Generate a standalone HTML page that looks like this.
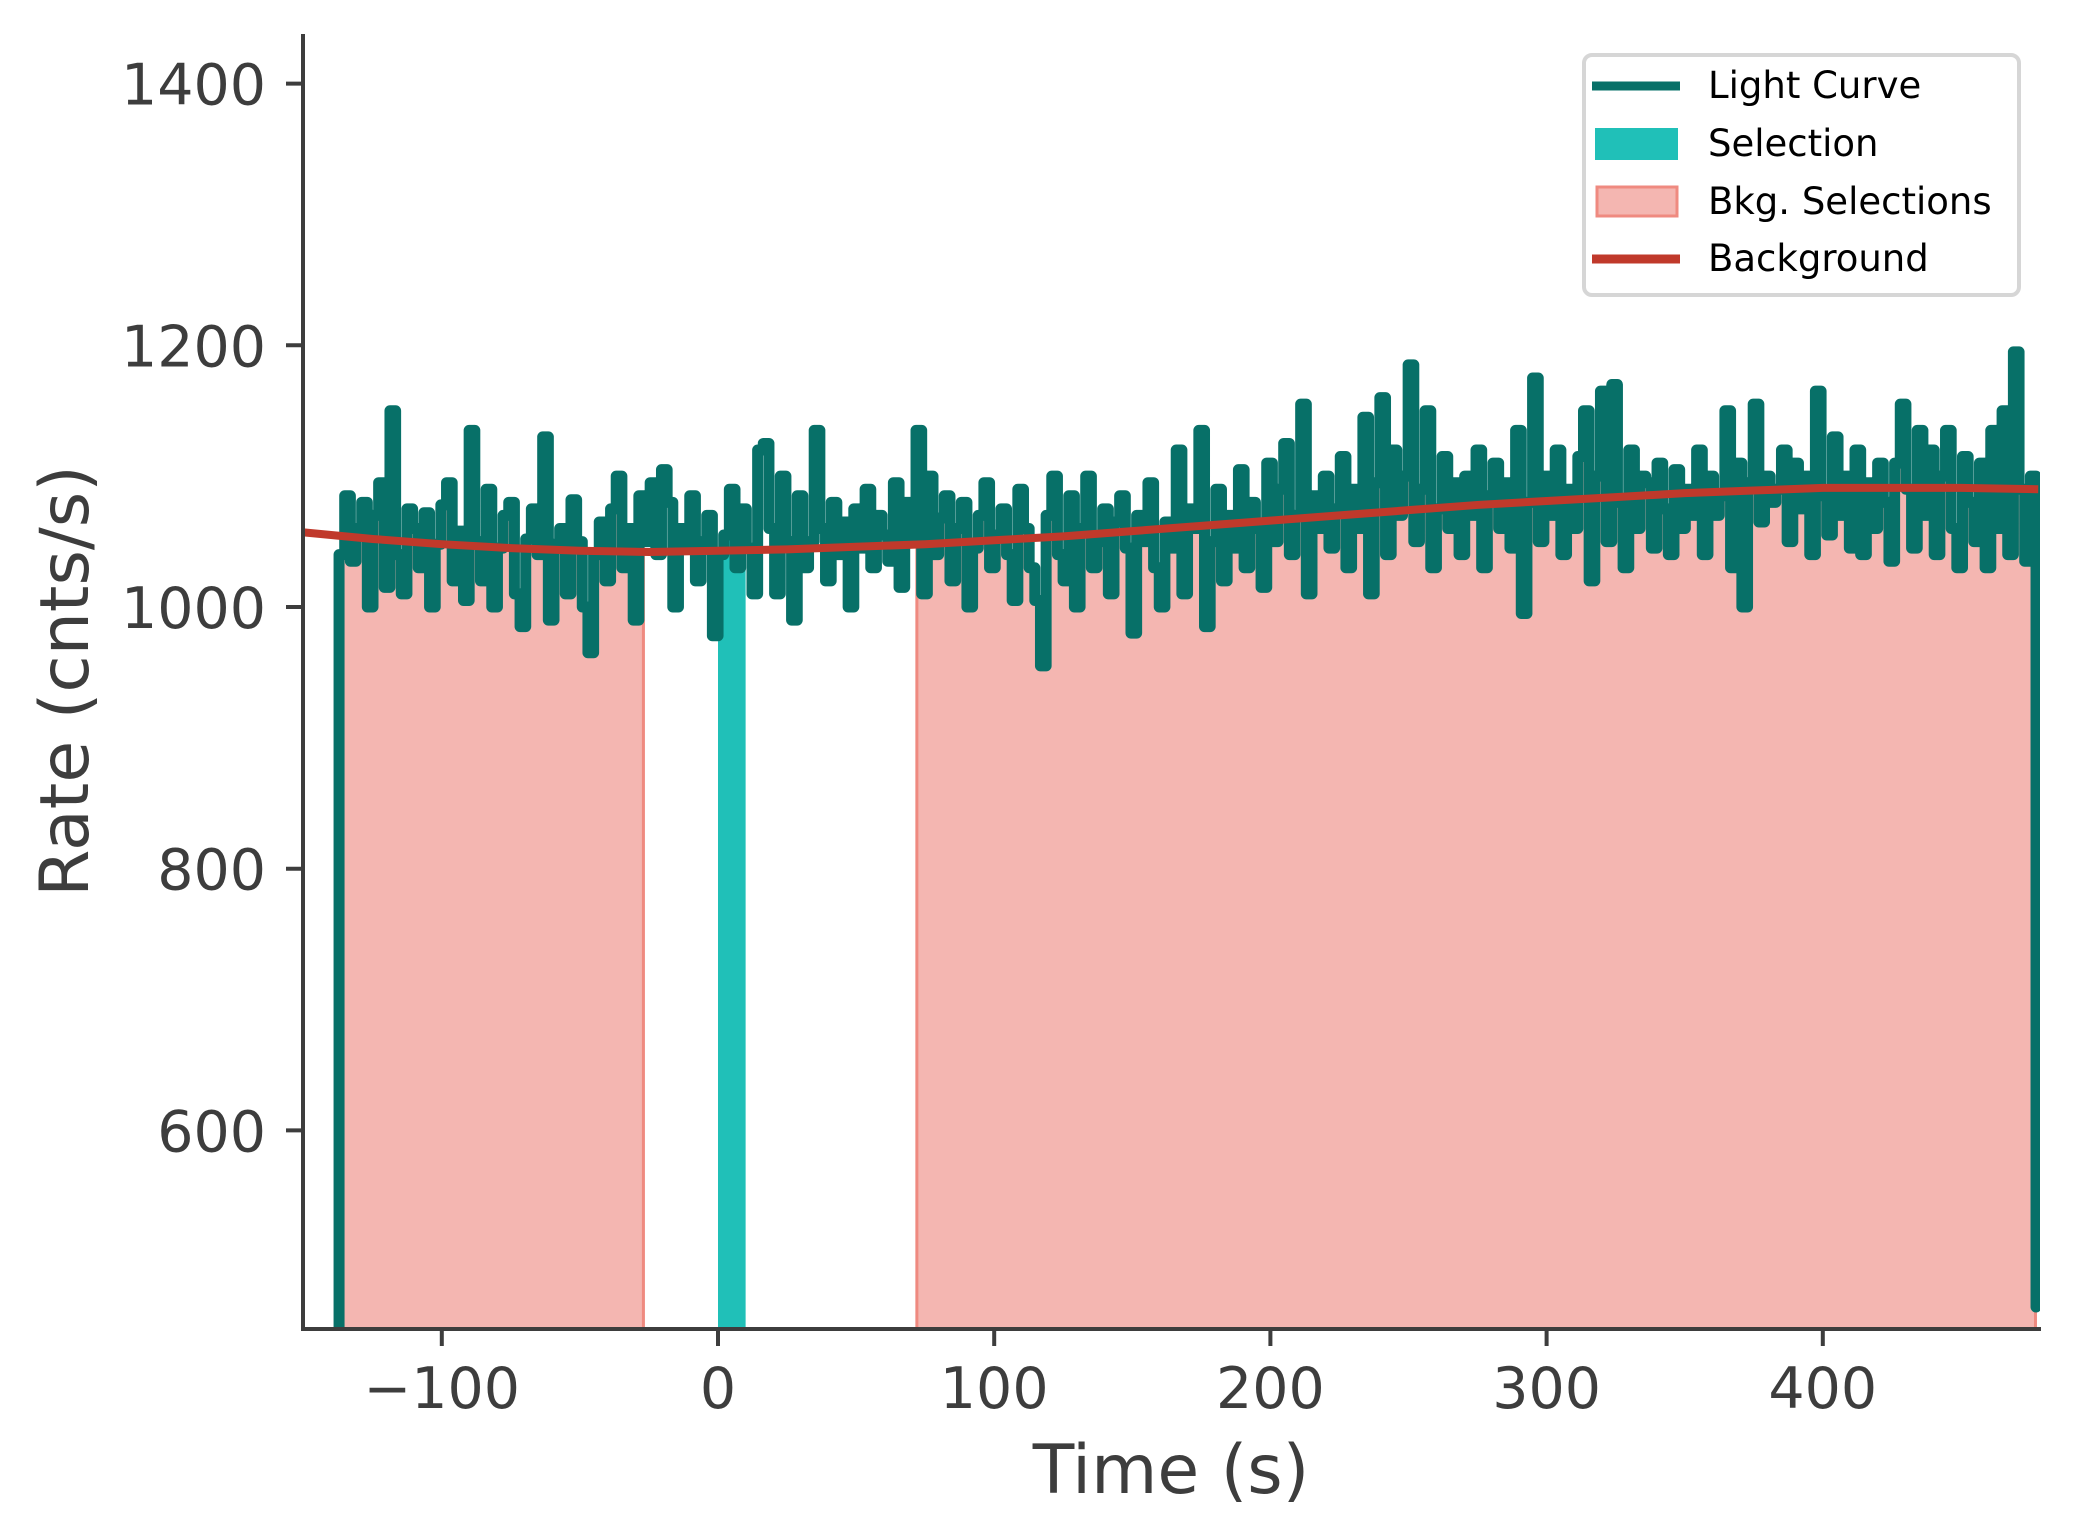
<!DOCTYPE html>
<html><head><meta charset="utf-8">
<style>
html,body{margin:0;padding:0;background:#fff;}
svg{display:block;}
text{font-family:"DejaVu Sans","Liberation Sans",sans-serif;fill:#3d3d3d;}
</style></head>
<body>
<svg id="chart" width="2073" height="1540" viewBox="0 0 2073 1540" xmlns="http://www.w3.org/2000/svg">
<defs><clipPath id="plotclip"><rect x="303" y="34" width="1737" height="1295"/></clipPath></defs>
<g id="plot" clip-path="url(#plotclip)"></g>
<g id="axes"></g>
<g id="legend">
  <rect x="1584" y="55" width="435" height="240" rx="8" fill="#fff" stroke="#d6d6d6" stroke-width="4"/>
  <line x1="1592" y1="86" x2="1680" y2="86" stroke="#077068" stroke-width="9"/>
  <text x="1708" y="98" font-size="37" style="fill:#000">Light Curve</text>
  <rect x="1595" y="128" width="83" height="32" fill="#20c0b8"/>
  <text x="1708" y="156" font-size="37" style="fill:#000">Selection</text>
  <rect x="1597" y="187" width="80" height="29" fill="#f4b6b1" stroke="#ef8a80" stroke-width="3"/>
  <text x="1708" y="214" font-size="37" style="fill:#000">Bkg. Selections</text>
  <line x1="1592" y1="259" x2="1680" y2="259" stroke="#c0392b" stroke-width="9"/>
  <text x="1708" y="271" font-size="37" style="fill:#000">Background</text>
</g>
</svg>
<script>
const t0 = -137.2;
const binWidth = 2.048;
const rates = [
1040,1085,1035,1060,1080,1000,1070,1095,1015,1150,1040,1010,1075,1060,1030,1072,1000,1048,1078,1095,
1020,1058,1005,1135,1050,1020,1090,1000,1045,1070,1080,1010,985,1052,1075,1040,1130,990,1048,1060,
1010,1082,1050,1000,965,1040,1065,1020,1075,1100,1030,1060,990,1085,1050,1095,1040,1105,1080,1000,
1060,1045,1085,1020,1050,1070,978,1040,1055,1090,1030,1075,1045,1010,1120,1125,1060,1010,1100,1050,
990,1085,1030,1050,1135,1060,1020,1080,1040,1065,1000,1075,1045,1090,1030,1070,1055,1035,1095,1015,
1080,1050,1135,1010,1100,1040,1068,1085,1020,1060,1080,1000,1045,1070,1095,1030,1055,1075,1040,1005,
1090,1060,1030,1005,955,1070,1100,1040,1020,1085,1000,1060,1100,1030,1050,1075,1010,1065,1085,1045,
980,1070,1050,1095,1030,1000,1065,1045,1120,1010,1075,1060,1135,985,1050,1090,1020,1070,1045,1105,
1030,1080,1060,1015,1110,1050,1090,1125,1040,1070,1155,1010,1085,1060,1100,1045,1075,1115,1030,1090,
1060,1145,1010,1095,1160,1040,1120,1070,1100,1185,1050,1090,1150,1030,1075,1115,1060,1095,1040,1100,
1070,1120,1030,1085,1110,1060,1095,1045,1135,995,1080,1175,1050,1100,1070,1120,1040,1090,1060,1115,
1150,1020,1100,1165,1050,1170,1080,1030,1120,1060,1100,1095,1045,1110,1075,1040,1105,1060,1090,1070,
1120,1040,1100,1070,1085,1150,1030,1110,1000,1095,1155,1065,1100,1080,1090,1120,1050,1110,1075,1100,
1040,1165,1085,1055,1130,1070,1100,1045,1120,1040,1095,1060,1110,1080,1035,1110,1155,1090,1045,1135,
1070,1120,1040,1100,1135,1060,1030,1115,1080,1050,1110,1030,1135,1060,1150,1040,1195,1090,1035,1100,
465];
const bkgTimes = [-150,-125,-100,-75,-50,-25,0,25,50,75,100,125,150,175,200,225,250,275,300,325,350,375,400,425,450,478];
const bkgRates = [1057,1052,1048,1045,1043,1042,1043,1044,1046,1048,1051,1054,1058,1062,1066,1070,1074,1078,1081,1084,1087,1089,1091,1091,1091,1090];
const selection = [0, 10];
const bkgSelections = [[-136, -27], [72, 477]];
const xTicks = [-100, 0, 100, 200, 300, 400];
const yTicks = [600, 800, 1000, 1200, 1400];

const X = t => 718 + t * 2.762;
const Y = v => 607 - (v - 1000) * 1.3085;
const NS = "http://www.w3.org/2000/svg";
const plot = document.getElementById('plot');
const axes = document.getElementById('axes');
function mk(tag, attrs, parent){ const e=document.createElementNS(NS,tag); for(const k in attrs) e.setAttribute(k,attrs[k]); parent.appendChild(e); return e; }

function rateAt(t){ let i=Math.floor((t-t0)/binWidth); i=Math.max(0,Math.min(rates.length-1,i)); return rates[i]; }
function fillPath(a,b){
  let d = `M${X(a)},${Y(300)} L${X(a)},${Y(rateAt(a))}`;
  for(let i=0;i<rates.length;i++){
    const s=t0+i*binWidth, e=s+binWidth;
    if(e<=a||s>=b) continue;
    const ss=Math.max(s,a), ee=Math.min(e,b);
    d+=` L${X(ss)},${Y(rates[i])} L${X(ee)},${Y(rates[i])}`;
  }
  d+=` L${X(b)},${Y(300)} Z`;
  return d;
}
bkgSelections.forEach((r,i)=>{
  const p=mk('path',{d:fillPath(r[0],r[1]),fill:'#f4b6b1',stroke:'#ef8a80','stroke-width':3},plot);
  
  
});
const sp=mk('path',{d:fillPath(selection[0],selection[1]),fill:'#20c0b8'},plot);



let d=`M${X(t0)},${Y(300)}`;
rates.forEach((v,i)=>{ const s=t0+i*binWidth; d+=` L${X(s)},${Y(v)} L${X(s+binWidth*(i===rates.length-1?0:1))},${Y(v)}`; });
const lc=mk('path',{d:d,fill:'none',stroke:'#077068','stroke-width':11,'stroke-linejoin':'round','stroke-linecap':'round'},plot);



const bl=mk('polyline',{points:bkgTimes.map((t,i)=>X(t)+','+Y(bkgRates[i])).join(' '),fill:'none',stroke:'#c0392b','stroke-width':8},plot);



const la=mk('line',{x1:303,y1:34,x2:303,y2:1331,stroke:'#3d3d3d','stroke-width':4},axes);


const ba=mk('line',{x1:301,y1:1329,x2:2041,y2:1329,stroke:'#3d3d3d','stroke-width':4},axes);


xTicks.forEach(v=>{
  const tk=mk('line',{x1:X(v),y1:1329,x2:X(v),y2:1346,stroke:'#3d3d3d','stroke-width':4},axes);
  
  
  const tx=mk('text',{x:X(v),y:1408,'font-size':57,'text-anchor':'middle'},axes);
  tx.textContent = v<0 ? '\u2212'+Math.abs(v) : String(v);
  
  
});
yTicks.forEach(v=>{
  const tk=mk('line',{x1:286,y1:Y(v),x2:303,y2:Y(v),stroke:'#3d3d3d','stroke-width':4},axes);
  
  
  const tx=mk('text',{x:266,y:Y(v)+21,'font-size':57,'text-anchor':'end'},axes);
  tx.textContent=String(v);
  
  
});
const xt=mk('text',{x:1171,y:1493,'font-size':68,'text-anchor':'middle'},axes);
xt.textContent='Time (s)';


const yt=mk('text',{x:0,y:0,'font-size':68,'text-anchor':'middle',transform:'translate(88,681) rotate(-90)'},axes);
yt.textContent='Rate (cnts/s)';


</script>
</body></html>
